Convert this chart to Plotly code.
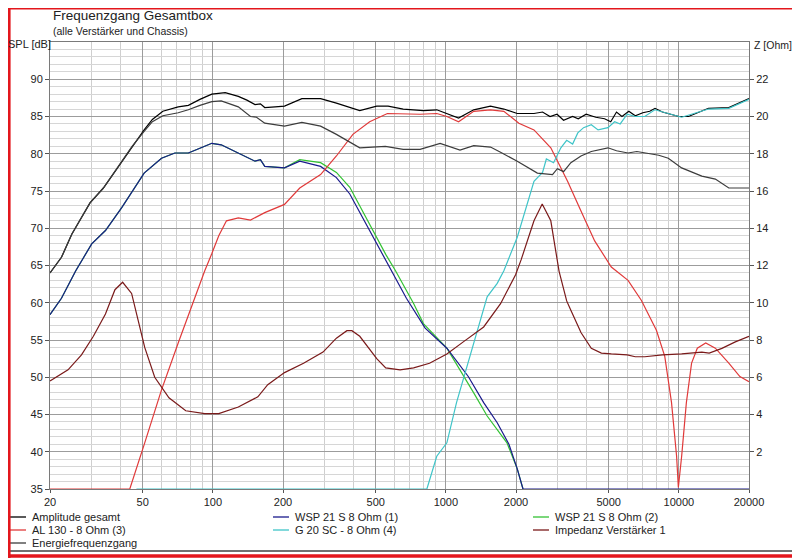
import plotly.graph_objects as go

# --- data ---
# frequencies in Hz, SPL in dB, impedance in Ohm

amp_f = [20, 22.4, 24.8, 29.7, 33.9, 40.7, 45, 50.7, 55, 61, 71, 78.5, 88, 99, 113, 128.6, 140, 151.7,
         160, 167, 185, 203, 241, 290, 339, 427, 505, 565, 656, 801, 914, 1010, 1134, 1317, 1554, 1774,
         2025, 2389, 2600, 2800, 3000, 3200, 3500, 3700, 4000, 4400, 4800, 5100, 5400, 5700, 6100, 6500,
         7000, 7500, 7900, 8500, 9200, 10000, 11000, 13400, 16380, 20000]
amp_db = [64.0, 66.1, 69.2, 73.4, 75.4, 79.0, 81.0, 83.2, 84.6, 85.7, 86.3, 86.5, 87.3, 88.0, 88.2, 87.7, 87.2, 86.6,
          86.7, 86.2, 86.3, 86.4, 87.4, 87.4, 86.8, 85.8, 86.4, 86.4, 86.0, 85.8, 85.9, 85.4, 84.8, 85.9, 86.4, 86.0,
          85.4, 85.4, 85.6, 85.0, 85.3, 84.5, 85.0, 84.7, 85.3, 84.9, 84.7, 84.3, 85.6, 85.0, 85.7, 85.1,
          85.5, 85.7, 86.1, 85.6, 85.3, 85.0, 85.0, 86.1, 86.2, 87.4]

energy_f = [20, 22.4, 24.8, 29.7, 33.9, 40.7, 45, 50.7, 55, 61, 71, 78.5, 88, 99, 108.6, 128.6, 145, 154, 167,
            203, 241, 290, 339, 427, 550, 656, 775, 945, 1150, 1317, 1554, 1717, 2025, 2470, 2869, 3010, 3200,
            3439, 3801, 4209, 4962, 5400, 6052, 6600, 7380, 8200, 9010, 10280, 12550, 14340, 16380, 20000]
energy_db = [64.0, 66.1, 69.2, 73.4, 75.4, 79.0, 81.0, 83.0, 84.3, 85.1, 85.5, 85.9, 86.5, 87.0, 87.1, 86.3, 85.0, 84.9, 84.1,
             83.7, 84.2, 83.7, 82.6, 80.8, 81.0, 80.6, 80.6, 81.4, 80.5, 81.1, 80.9, 80.2, 79.0, 77.4, 77.2, 78.0, 77.6,
             78.8, 79.7, 80.3, 80.8, 80.4, 80.1, 80.3, 80.0, 79.8, 79.4, 78.1, 77.0, 76.6, 75.4, 75.4]

wsp1_f = [20, 22.4, 25.8, 30.2, 34.6, 40.7, 50.7, 60.2, 68.7, 78.5, 89, 99, 108.6, 128.6, 151.7, 160, 167, 203,
          236, 290, 339, 387, 471, 552, 677, 815, 1010, 1248, 1453, 1661, 1865, 2025, 2143, 20000]
wsp1_db = [58.4, 60.6, 64.3, 67.9, 69.7, 72.8, 77.4, 79.4, 80.1, 80.1, 80.8, 81.4, 81.2, 80.1, 79.0, 79.2, 78.3, 78.1,
           79.0, 78.3, 76.8, 74.6, 69.7, 65.7, 60.6, 56.6, 53.9, 50.1, 46.6, 43.9, 41.0, 37.7, 35.0, 35.0]

wsp2_f = [20, 22.4, 25.8, 30.2, 34.6, 40.7, 50.7, 60.2, 68.7, 78.5, 89, 99, 108.6, 128.6, 151.7, 160, 167, 203,
          236, 290, 339, 387, 471, 552, 608, 727, 801, 1010, 1317, 1504, 1829, 2025, 2143]
wsp2_db = [58.4, 60.6, 64.3, 67.9, 69.7, 72.8, 77.4, 79.4, 80.1, 80.1, 80.8, 81.4, 81.2, 80.1, 79.0, 79.2, 78.3, 78.1,
           79.2, 78.8, 77.5, 75.5, 70.6, 66.5, 64.3, 59.9, 57.2, 53.9, 47.9, 44.8, 41.2, 37.7, 35.0]

al130_f = [20, 44, 51, 60.2, 71, 81.6, 92.3, 99, 106, 114.4, 128.6, 145, 167, 203, 236, 290, 339, 399, 471, 561,
           775, 914, 1010, 1134, 1317, 1554, 1774, 2057, 2389, 2821, 3329, 3801, 4352, 5130, 6052, 6908,
           8010, 8700, 9300, 9780, 9950, 10280, 10770, 11340, 12000, 13040, 14340, 16380, 18280, 20000]
al130_db = [35.0, 35.0, 41.2, 48.3, 54.6, 59.9, 64.3, 66.6, 69.0, 71.0, 71.4, 71.1, 72.1, 73.2, 75.4, 77.2, 79.7, 82.6, 84.3, 85.4,
            85.3, 85.4, 85.0, 84.3, 85.7, 85.9, 85.7, 84.1, 83.2, 80.8, 76.3, 72.3, 68.3, 64.8, 63.0, 60.3,
            56.3, 52.8, 46.6, 39.4, 35.2, 39.4, 46.6, 51.9, 53.9, 54.6, 53.9, 51.9, 50.1, 49.4]

g20_f = [47, 829, 914, 1010, 1111, 1222, 1343, 1504, 1661, 1774, 2025, 2389, 2600, 2700, 2900, 3116, 3300,
         3500, 3683, 3900, 4209, 4500, 4962, 5300, 5600, 6000, 6500, 7140, 7886, 10280, 13400, 16380, 20000]
g20_db = [35.0, 35.0, 39.4, 41.2, 46.6, 51.0, 55.4, 60.8, 62.6, 64.3, 68.8, 76.3, 77.5, 79.3, 78.8, 80.8, 81.8,
          81.3, 82.8, 83.5, 83.9, 83.2, 83.5, 84.3, 84.0, 85.3, 85.0, 85.0, 85.9, 84.9, 86.0, 86.1, 87.3]

imp_f = [20, 23.9, 27.3, 30.7, 34.6, 38, 41, 44.8, 51, 56.3, 64.8, 76.5, 92.3, 106, 128.6, 156, 172, 203, 245,
         297, 339, 376, 395, 427, 505, 552, 636, 727, 851, 1010, 1188, 1453, 1717, 1992, 2103, 2389, 2591,
         2821, 3060, 3300, 3439, 3801, 4209, 4650, 5130, 6000, 6500, 7140, 8500, 10280, 12550, 13500, 15300,
         17470, 20000]
imp_ohm = [5.8, 6.4, 7.2, 8.2, 9.4, 10.7, 11.1, 10.5, 7.6, 6.0, 4.9, 4.2, 4.05, 4.05, 4.4, 4.95, 5.6, 6.25, 6.75,
           7.35, 8.1, 8.5, 8.5, 8.2, 7.0, 6.5, 6.4, 6.5, 6.75, 7.25, 7.9, 8.7, 9.95, 11.5, 12.3, 14.4, 15.3,
           14.4, 11.7, 10.1, 9.6, 8.4, 7.55, 7.3, 7.25, 7.2, 7.1, 7.1, 7.2, 7.25, 7.35, 7.3, 7.55,
           7.9, 8.2]

x_ticks = [20, 50, 100, 200, 500, 1000, 2000, 5000, 10000, 20000]
x_minor = [30, 40, 60, 70, 80, 90, 300, 400, 600, 700, 800, 900, 3000, 4000, 6000, 7000, 8000, 9000]
spl_ticks = [35, 40, 45, 50, 55, 60, 65, 70, 75, 80, 85, 90]
z_ticks = [2, 4, 6, 8, 10, 12, 14, 16, 18, 20, 22]

# name, colour, x, y, axis  (drawing order)
series = [
    ("Amplitude gesamt", "#000000", amp_f, amp_db, "y"),
    ("WSP 21 S 8 Ohm (2)", "#33c233", wsp2_f, wsp2_db, "y"),
    ("WSP 21 S 8 Ohm (1)", "#1a1a8c", wsp1_f, wsp1_db, "y"),
    ("AL 130 - 8 Ohm (3)", "#e03a3a", al130_f, al130_db, "y"),
    ("G 20 SC - 8 Ohm (4)", "#3fc4c8", g20_f, g20_db, "y"),
    ("Impedanz Verstärker 1", "#7a1a1a", imp_f, imp_ohm, "y2"),
    ("Energiefrequenzgang", "#3c3c3c", energy_f, energy_db, "y"),
]

# legend layout as in the picture: 3 columns
legend_items = [
    ("Amplitude gesamt", "#000000"), ("WSP 21 S 8 Ohm (1)", "#1a1a8c"), ("WSP 21 S 8 Ohm (2)", "#33c233"),
    ("AL 130 - 8 Ohm (3)", "#e03a3a"), ("G 20 SC - 8 Ohm (4)", "#3fc4c8"), ("Impedanz Verstärker 1", "#7a1a1a"),
    ("Energiefrequenzgang", "#3c3c3c"),
]

# the page has an 8px body margin, so the figure is made 8px smaller and the margins shifted
OFF = 8
W, H = 800 - OFF, 558 - OFF
L, R, T, B = 50 - OFF, 51, 42 - OFF, 69
PW, PH = W - L - R, H - T - B


def px(x):
    # page pixel -> paper x
    return (x - OFF - L) / PW


def py(y):
    # page pixel -> paper y
    return (H - B - (y - OFF)) / PH


fig = go.Figure()
for name, col, xs, ys, ax in series:
    fig.add_trace(go.Scatter(x=xs, y=ys, name=name, mode="lines", yaxis=ax,
                             line=dict(color=col, width=1.2), showlegend=False))

font = "Liberation Sans, Arial, sans-serif"
ann = [
    dict(text="Frequenzgang Gesamtbox", x=px(51), y=py(15.5), xanchor="left", yanchor="middle",
         font=dict(size=13.5, color="#222")),
    dict(text="(alle Verstärker und Chassis)", x=px(51), y=py(30.5), xanchor="left", yanchor="middle",
         font=dict(size=10.5, color="#222")),
    dict(text="SPL [dB]", x=px(6), y=py(44), xanchor="left", yanchor="middle", font=dict(size=11, color="#222")),
    dict(text="Z [Ohm]", x=px(752), y=py(45), xanchor="left", yanchor="middle", font=dict(size=10.5, color="#222")),
]
shapes = []
col_x = [10, 273, 533]
row_y = [517, 530, 543]
for i, (name, col) in enumerate(legend_items):
    cx, ry = col_x[i % 3], row_y[i // 3]
    shapes.append(dict(type="line", xref="paper", yref="paper", x0=px(cx), x1=px(cx + 16),
                       y0=py(ry), y1=py(ry), line=dict(color=col, width=1.3)))
    ann.append(dict(text=name, x=px(cx + 20), y=py(ry), xanchor="left", yanchor="middle",
                    font=dict(size=11, color="#222")))
for a in ann:
    a.update(xref="paper", yref="paper", showarrow=False)

# separator line and red frame of the screenshot
red = "#e3161c"
shapes.append(dict(type="line", xref="paper", yref="paper", x0=px(10), x1=px(797), y0=py(551), y1=py(551),
                   line=dict(color="#707070", width=2)))
frame = [(9, 8.7, 798.5, 8.7, 1.6), (9.3, 8, 9.3, 558, 2.6), (798.3, 8, 798.3, 558, 3.4),
         (8, 556, 800, 556, 3.6)]
for x0, y0, x1, y1, w in frame:
    shapes.append(dict(type="line", xref="paper", yref="paper", x0=px(x0), y0=py(y0), x1=px(x1), y1=py(y1),
                       line=dict(color=red, width=w)))

fig.update_layout(
    width=W, height=H,
    margin=dict(l=L, r=R, t=T, b=B),
    paper_bgcolor="white", plot_bgcolor="white",
    font=dict(family=font, size=11, color="#222"),
    annotations=ann, shapes=shapes,
    showlegend=False,
    xaxis=dict(type="log", range=[1.30103, 4.30103], tickmode="array", tickvals=x_ticks,
               ticktext=[str(v) for v in x_ticks], showgrid=True, gridcolor="#9c9c9c", gridwidth=1,
               minor=dict(tickmode="array", tickvals=x_minor, showgrid=True, gridcolor="#cfcfcf", gridwidth=1),
               showline=True, linecolor="#7a7a7a", mirror=True, ticks="outside", ticklen=3,
               tickcolor="#555", zeroline=False),
    yaxis=dict(range=[35, 95], tickmode="array", tickvals=spl_ticks, showgrid=True, gridcolor="#9c9c9c",
               minor=dict(dtick=1, tick0=35, showgrid=True, gridcolor="#d6d6d6", gridwidth=1),
               showline=True, linecolor="#7a7a7a", mirror=True, ticks="outside", ticklen=4,
               tickcolor="#555", zeroline=False),
    yaxis2=dict(range=[0, 24], overlaying="y", side="right", tickmode="array", tickvals=z_ticks,
                showgrid=False, ticks="outside", ticklen=4, tickcolor="#555", zeroline=False,
                showline=False),
)

fig.write_html("out.html")
